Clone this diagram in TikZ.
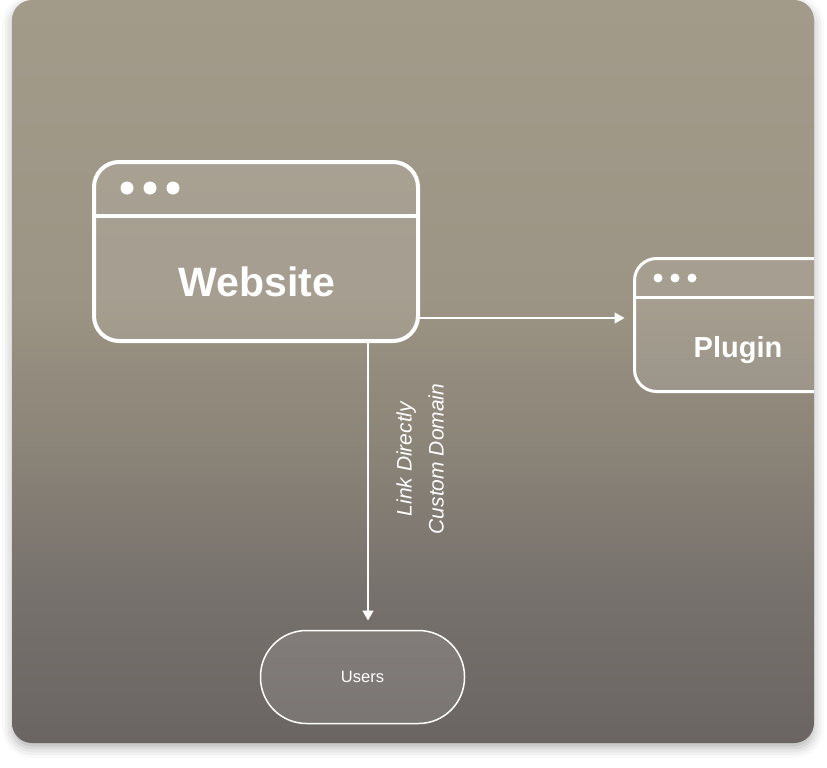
\documentclass[tikz,border=0pt]{standalone}
\usepackage{fontspec}
\setmainfont{Liberation Sans}
\usetikzlibrary{calc,arrows.meta,shadows.blur}
\definecolor{cardtop}{HTML}{A39B8A}
\definecolor{cardhigh}{HTML}{9C9484}
\definecolor{cardmid}{HTML}{8B8478}
\definecolor{cardlow}{HTML}{77716D}
\definecolor{cardbot}{HTML}{6A6563}
\pgfdeclareverticalshading{cardshade}{100bp}{color(0bp)=(cardbot); color(25bp)=(cardbot);
  color(35bp)=(cardlow); color(45bp)=(cardmid); color(55bp)=(cardhigh); color(75bp)=(cardtop); color(100bp)=(cardtop)}

\begin{document}
\begin{tikzpicture}[x=1pt,y=-1pt,
  window/.style={draw=white, fill=white, fill opacity=0.1, outer sep=0pt, rectangle},
  link/.style={draw=white, line width=1.5pt, -{Triangle[length=10pt,width=11pt]}, shorten >=10pt},
  title/.style={text=white, font=\bfseries, anchor=base}]
  \useasboundingbox (0,0) rectangle (827,768);
  % card
  \shade[shading=cardshade, rounded corners=20pt,
    blur shadow={shadow xshift=0pt, shadow yshift=-5pt, shadow blur radius=10pt, shadow opacity=30}]
    (12,0) rectangle (814,743);
  \begin{scope}
    \clip[rounded corners=20pt] (12,0) rectangle (814,743);
    % windows
    \node[window, line width=4pt, rounded corners=25pt, minimum width=324pt, minimum height=179pt] (website) at (256,251.5) {};
    \draw[white, line width=4pt] ($(website.north west)+(0,54)$) -- ($(website.north east)+(0,54)$);
    \foreach \i in {0,1,2}
      \fill[white] ($(website.north west)+(33+23*\i,26)$) circle (6.5);
    \node[title, font=\bfseries\fontsize{41}{48}\selectfont] (websitetext) at (257,296) {Website};

    \node[window, line width=3pt, rounded corners=22pt, minimum width=210pt, minimum height=133pt] (plugin) at (739.5,325) {};
    \draw[white, line width=3pt] ($(plugin.north west)+(0,38.5)$) -- ($(plugin.north east)+(0,38.5)$);
    \foreach \i in {0,1,2}
      \fill[white] ($(plugin.north west)+(23.5+17*\i,19.5)$) circle (4.5);
    \node[title, font=\bfseries\fontsize{29}{34}\selectfont] (plugintext) at (738,357) {Plugin};
  \end{scope}
  % users
  \node[window, line width=1.5pt, rounded corners=46pt, minimum width=204pt, minimum height=93pt,
    text=white, text opacity=1, font=\fontsize{16.5}{20}\selectfont] (users) at (362.5,677) {Users};
  % arrows
  \draw[link] (website.east |- 0,318) -- (plugin.west |- 0,318);
  \draw[link] (website.south -| 368,0) -- (users.north -| 368,0);
  \node[rotate=90, align=center, text=white, font=\itshape\fontsize{21}{32}\selectfont] (linklabel) at (420,459)
    {Link Directly\\Custom Domain};
\end{tikzpicture}
\end{document}
